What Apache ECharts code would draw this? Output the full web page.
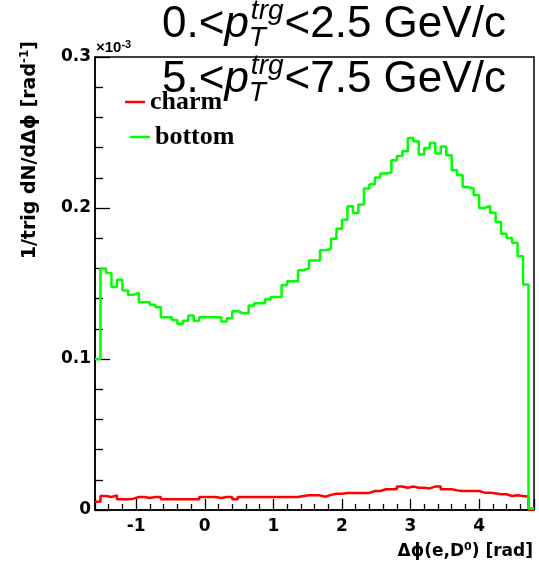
<!DOCTYPE html>
<html>
<head>
<meta charset="utf-8">
<script src="https://cdn.jsdelivr.net/npm/echarts@6/dist/echarts.min.js"></script>
<style>
html,body{margin:0;padding:0;background:#ffffff;}
#chart{width:539px;height:570px;}
</style>
</head>
<body>
<div id="chart"></div>
<script>
// ---------------- data ----------------
// histogram binning: 80 bins of width 0.08 rad starting at -1.6 rad
const histLow = -1.6;
const binWidth = 0.08;

const seriesNames = ['charm', 'bottom'];

// bottom (green), in units of 1e-3 rad^-1
const bottomVals = [
  0.100, 0.160, 0.157, 0.1476, 0.1525, 0.1454, 0.1425, 0.1438, 0.1376, 0.1376,
  0.1359, 0.1343, 0.1276, 0.1276, 0.1259, 0.1232, 0.1254, 0.1288, 0.1254, 0.1276,
  0.1276, 0.1276, 0.1276, 0.1248, 0.1270, 0.1316, 0.1303, 0.1303, 0.1354, 0.1369,
  0.1369, 0.1395, 0.1410, 0.1410, 0.1490, 0.1515, 0.1515, 0.1588, 0.1600, 0.1653,
  0.1653, 0.1720, 0.1730, 0.1797, 0.1863, 0.1923, 0.2011, 0.1967, 0.2024, 0.2129,
  0.2157, 0.2202, 0.2228, 0.2235, 0.2316, 0.2345, 0.2376, 0.2463, 0.2442, 0.2355,
  0.2398, 0.2430, 0.2361, 0.2408, 0.2349, 0.2250, 0.2217, 0.2139, 0.2128, 0.2084,
  0.2000, 0.2013, 0.1969, 0.1907, 0.1830, 0.1801, 0.1770, 0.1681, 0.1493, 0.001
];

// charm (red)
const charmVals = [
  0.0055, 0.0093, 0.0086, 0.0097, 0.0071, 0.0071, 0.0075, 0.0086, 0.0086, 0.0080,
  0.0086, 0.0086, 0.0071, 0.0071, 0.0071, 0.0071, 0.0071, 0.0071, 0.0071, 0.0086,
  0.0086, 0.0086, 0.0080, 0.0086, 0.0086, 0.0071, 0.0086, 0.0086, 0.0086, 0.0086,
  0.0086, 0.0086, 0.0086, 0.0086, 0.0086, 0.0086, 0.0086, 0.0093, 0.0097, 0.0097,
  0.0097, 0.0088, 0.0100, 0.0108, 0.0108, 0.0113, 0.0113, 0.0113, 0.0113, 0.0113,
  0.0126, 0.0126, 0.0137, 0.0137, 0.0137, 0.0155, 0.0148, 0.0155, 0.0148, 0.0148,
  0.0143, 0.0155, 0.0155, 0.0137, 0.0137, 0.0130, 0.0126, 0.0126, 0.0126, 0.0126,
  0.0115, 0.0115, 0.0110, 0.0104, 0.0104, 0.0093, 0.0098, 0.0093, 0.0090, 0.0
];

// axis ranges
const xRange = [-1.6, 4.8];
const yRange = [0, 0.3];
const yMajor = 0.1;

// text
const title1 = ['0.<', '2.5 GeV/c'];
const title2 = ['5.<', '7.5 GeV/c'];
const yTitle = '1/trig dN/d\u0394\u03d5 [rad';
const xTitle = '\u0394\u03d5(e,D';

// ---------------- build ----------------
function stepData(vals) {
  const pts = [];
  for (let i = 0; i < vals.length; i++) {
    pts.push([+(histLow + i * binWidth).toFixed(5), vals[i]]);
  }
  pts.push([+(histLow + vals.length * binWidth).toFixed(5), vals[vals.length - 1]]);
  return pts;
}

const cv = document.createElement('canvas').getContext('2d');
function textW(t, size, italic) {
  cv.font = (italic ? 'italic ' : '') + size + 'px "Liberation Sans"';
  return cv.measureText(t).width;
}

function titleLine(parts, x, cy) {
  const S = 44, s = 28;
  const els = [];
  let cx = x;
  const base = {fontFamily: 'Liberation Sans', fill: '#000', verticalAlign: 'middle', align: 'left'};
  els.push({type: 'text', x: cx, y: cy, style: Object.assign({}, base, {text: parts[0], fontSize: S})});
  cx += textW(parts[0], S, false);
  els.push({type: 'text', x: cx, y: cy, style: Object.assign({}, base, {text: 'p', fontSize: S, fontStyle: 'italic'})});
  cx += textW('p', S, true);
  els.push({type: 'text', x: cx, y: cy + 13, style: Object.assign({}, base, {text: 'T', fontSize: s, fontStyle: 'italic'})});
  els.push({type: 'text', x: cx + 2, y: cy - 14, style: Object.assign({}, base, {text: 'trg', fontSize: s, fontStyle: 'italic'})});
  cx += Math.max(textW('T', s, true), textW('trg', s, true) + 2) + 1;
  els.push({type: 'text', x: cx, y: cy, style: Object.assign({}, base, {text: '<' + parts[1], fontSize: S})});
  return els;
}

const axisLineStyle = {color: '#000', width: 1.5};
const labelFont = {color: '#000', fontFamily: 'DejaVu Sans', fontWeight: 'bold', fontSize: 17};
const legendText = {color: '#000', fontFamily: 'Liberation Serif', fontWeight: 'bold', fontSize: 26};

const chart = echarts.init(document.getElementById('chart'), null, {renderer: 'canvas'});

const option = {
  animation: false,
  backgroundColor: '#ffffff',
  grid: {left: 95, top: 57, width: 439, height: 453, show: true, borderColor: '#000', borderWidth: 1.5, backgroundColor: 'transparent', containLabel: false},
  xAxis: {
    type: 'value', min: xRange[0], max: xRange[1],
    axisLine: {show: true, onZero: false, lineStyle: axisLineStyle},
    axisTick: {show: true, inside: true, length: 11, lineStyle: {color: '#000', width: 1.3}},
    minorTick: {show: true, splitNumber: 5, length: 6, lineStyle: {color: '#000', width: 1.3}},
    splitLine: {show: false}, minorSplitLine: {show: false},
    axisLabel: Object.assign({show: true, showMinLabel: false, showMaxLabel: false, margin: 8}, labelFont)
  },
  yAxis: {
    type: 'value', min: yRange[0], max: yRange[1], interval: yMajor,
    axisLine: {show: true, onZero: false, lineStyle: axisLineStyle},
    axisTick: {show: true, inside: true, length: 15, lineStyle: {color: '#000', width: 1.3}},
    minorTick: {show: true, splitNumber: 5, length: 8, lineStyle: {color: '#000', width: 1.3}},
    splitLine: {show: false}, minorSplitLine: {show: false},
    axisLabel: Object.assign({show: true, margin: 4}, labelFont)
  },
  legend: [
    {data: [seriesNames[0]], left: 125, top: 89, icon: 'rect', itemWidth: 20, itemHeight: 2.5, itemGap: 0, selectedMode: false, textStyle: legendText, padding: 0},
    {data: [seriesNames[1]], left: 130, top: 124, icon: 'rect', itemWidth: 20, itemHeight: 2.5, itemGap: 0, selectedMode: false, textStyle: legendText, padding: 0}
  ],
  series: [
    {name: seriesNames[0], type: 'line', step: 'end', data: stepData(charmVals), symbol: 'none', showSymbol: false,
     lineStyle: {color: '#ff0000', width: 2.5}, itemStyle: {color: '#ff0000'}, z: 3},
    {name: seriesNames[1], type: 'line', step: 'end', data: stepData(bottomVals), symbol: 'none', showSymbol: false,
     lineStyle: {color: '#00ff00', width: 2.5}, itemStyle: {color: '#00ff00'}, z: 4}
  ],
  graphic: [].concat(
    titleLine(title1, 162, 25),
    titleLine(title2, 162, 80),
    [
      {type: 'text', x: 30, y: 41, rotation: Math.PI / 2,
       style: {text: yTitle + '{sup|-1}]', fontFamily: 'DejaVu Sans', fontWeight: 'bold', fontSize: 19, fill: '#000', align: 'right', verticalAlign: 'middle',
               rich: {sup: {fontFamily: 'DejaVu Sans', fontWeight: 'bold', fontSize: 12, verticalAlign: 'top', lineHeight: 22}}}},
      {type: 'text', x: 533, y: 552,
       style: {text: xTitle + '{sup|0}) [rad]', fontFamily: 'DejaVu Sans', fontWeight: 'bold', fontSize: 17, fill: '#000', align: 'right', verticalAlign: 'middle',
               rich: {sup: {fontFamily: 'DejaVu Sans', fontWeight: 'bold', fontSize: 11, verticalAlign: 'top', lineHeight: 20}}}},
      {type: 'text', x: 96, y: 48,
       style: {text: '\u00d710{sup|-3}', fontFamily: 'Liberation Sans', fontWeight: 'bold', fontSize: 15, fill: '#000', align: 'left', verticalAlign: 'middle',
               rich: {sup: {fontFamily: 'Liberation Sans', fontWeight: 'bold', fontSize: 11, verticalAlign: 'top', lineHeight: 18}}}}
    ]
  )
};
chart.setOption(option);
</script>
</body>
</html>
